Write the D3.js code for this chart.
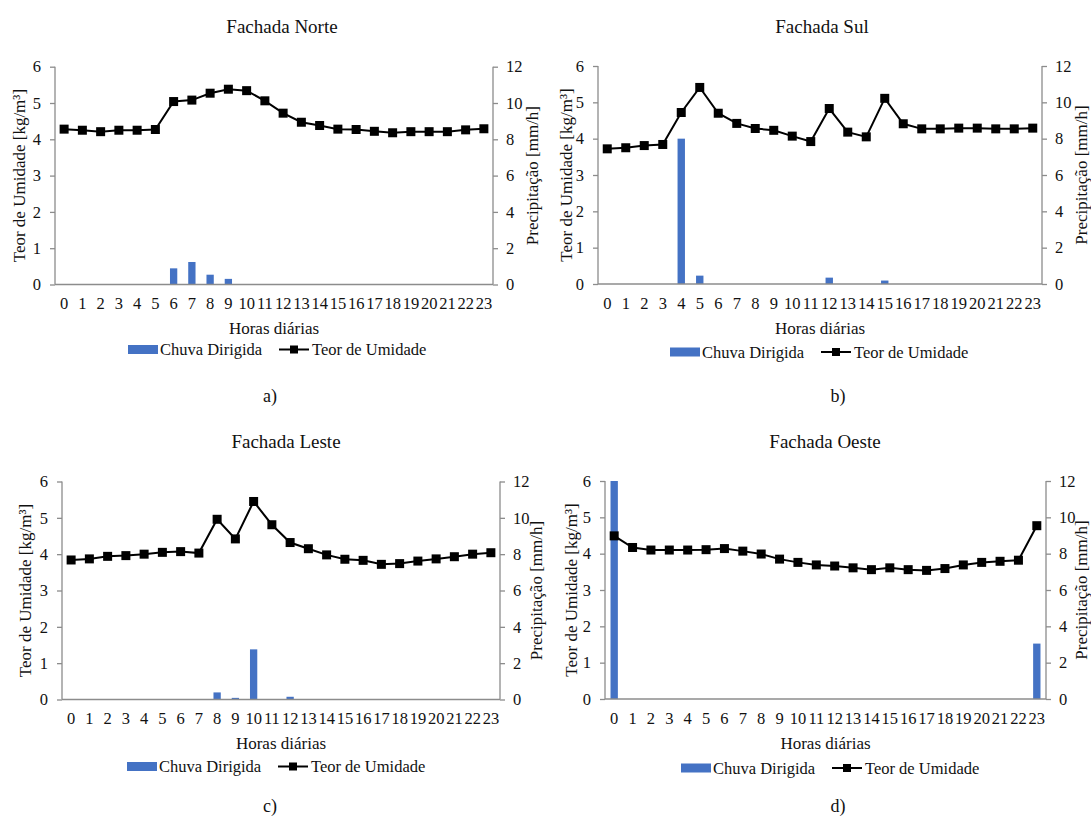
<!DOCTYPE html>
<html>
<head>
<meta charset="utf-8">
<script src="https://cdn.jsdelivr.net/npm/d3@7"></script>
<style>
  body { margin: 0; background: #fff; }
  text { font-family: "Liberation Serif", "Times New Roman", serif; fill: #111; }
</style>
</head>
<body>
<div id="chart"></div>
<script>
// hours of the day (x categories)
const hours = ['0','1','2','3','4','5','6','7','8','9','10','11','12','13','14','15','16','17','18','19','20','21','22','23']
const leftTicks = [0, 1, 2, 3, 4, 5, 6]
const rightTicks = [0, 2, 4, 6, 8, 10, 12]

// Teor de Umidade [kg/m³]
const norteTeor = [4.28, 4.25, 4.21, 4.25, 4.25, 4.27, 5.04, 5.08, 5.27, 5.38, 5.34, 5.06, 4.72, 4.47, 4.38, 4.28, 4.27, 4.22, 4.18, 4.21, 4.21, 4.21, 4.26, 4.29]
const sulTeor = [3.72, 3.75, 3.81, 3.84, 4.72, 5.41, 4.70, 4.42, 4.28, 4.23, 4.07, 3.92, 4.83, 4.18, 4.05, 5.11, 4.41, 4.27, 4.27, 4.29, 4.29, 4.27, 4.27, 4.29]
const lesteTeor = [3.84, 3.87, 3.94, 3.96, 4.00, 4.05, 4.07, 4.03, 4.96, 4.42, 5.45, 4.81, 4.32, 4.15, 3.98, 3.86, 3.83, 3.72, 3.74, 3.81, 3.87, 3.93, 4.00, 4.04]
const oesteTeor = [4.49, 4.17, 4.10, 4.10, 4.10, 4.11, 4.14, 4.07, 3.99, 3.85, 3.76, 3.69, 3.66, 3.61, 3.56, 3.61, 3.56, 3.54, 3.59, 3.69, 3.76, 3.79, 3.82, 4.77]

// Chuva Dirigida, precipitação [mm/h]
const norteChuva = [0, 0, 0, 0, 0, 0, 0.89, 1.24, 0.54, 0.31, 0, 0, 0, 0, 0, 0, 0, 0, 0, 0, 0, 0, 0, 0]
const sulChuva = [0, 0, 0, 0, 8.0, 0.46, 0, 0, 0, 0, 0, 0, 0.35, 0, 0, 0.19, 0, 0, 0, 0, 0, 0, 0, 0]
const lesteChuva = [0, 0, 0, 0, 0, 0, 0, 0, 0.39, 0.09, 2.76, 0, 0.15, 0, 0, 0, 0, 0, 0, 0, 0, 0, 0, 0]
const oesteChuva = [12, 0, 0, 0, 0, 0, 0, 0, 0, 0, 0, 0, 0, 0, 0, 0, 0, 0, 0, 0, 0, 0, 0, 3.05]

const blue = '#4472c4'
const axisGrey = '#8c8c8c'

const svg = d3.select('#chart').append('svg')
  .attr('width', 1091)
  .attr('height', 818)
  .style('background', '#fff')

const panels = [
  {title: 'Fachada Norte', caption: 'a)', teor: norteTeor, chuva: norteChuva,
   left: 55, right: 493, top: 66.7, bottom: 284.5, titleX: 282, ylabX: 19, y2labX: 532, legX: 128, legDy: 65, capX: 270, capY: 396},
  {title: 'Fachada Sul', caption: 'b)', teor: sulTeor, chuva: sulChuva,
   left: 598, right: 1042, top: 66, bottom: 284, titleX: 822, ylabX: 566, y2labX: 1081, legX: 670, legDy: 68, capX: 838, capY: 396},
  {title: 'Fachada Leste', caption: 'c)', teor: lesteTeor, chuva: lesteChuva,
   left: 62, right: 500, top: 481.5, bottom: 699.5, titleX: 286, ylabX: 25, y2labX: 536, legX: 127, legDy: 67, capX: 270, capY: 806},
  {title: 'Fachada Oeste', caption: 'd)', teor: oesteTeor, chuva: oesteChuva,
   left: 605, right: 1046, top: 481, bottom: 699, titleX: 825, ylabX: 571, y2labX: 1081, legX: 681, legDy: 69, capX: 838, capY: 806}
]

const drawPanel = (p) => {
  const g = svg.append('g')
  const x = d3.scaleBand().domain(hours).range([p.left, p.right])
  const y = d3.scaleLinear().domain([0, 6]).range([p.bottom, p.top])
  const y2 = d3.scaleLinear().domain([0, 12]).range([p.bottom, p.top])
  const cx = (p.left + p.right) / 2

  // title
  g.append('text')
    .attr('x', p.titleX).attr('y', p.top - 40)
    .attr('text-anchor', 'middle').attr('dominant-baseline', 'central')
    .style('font-size', '19px')
    .text(p.title)

  // bars (secondary axis)
  const barW = x.bandwidth() * 0.4
  g.append('g').selectAll('rect')
    .data(p.chuva)
    .join('rect')
    .attr('x', (d, i) => x(hours[i]) + (x.bandwidth() - barW) / 2)
    .attr('y', d => y2(d))
    .attr('width', barW)
    .attr('height', d => y2(0) - y2(d))
    .attr('fill', blue)

  // axes
  const axL = g.append('g')
    .attr('transform', `translate(${p.left},0)`)
    .call(d3.axisLeft(y).tickValues(leftTicks).tickSize(5).tickPadding(9).tickFormat(d3.format('d')))
  const axR = g.append('g')
    .attr('transform', `translate(${p.right},0)`)
    .call(d3.axisRight(y2).tickValues(rightTicks).tickSize(5).tickPadding(8).tickFormat(d3.format('d')))
  const axB = g.append('g')
    .attr('transform', `translate(0,${p.bottom})`)
    .call(d3.axisBottom(x).tickSize(0).tickPadding(13))
  ;[axL, axR, axB].forEach(a => {
    a.attr('font-family', null)
    a.select('.domain').attr('stroke', axisGrey).attr('stroke-width', 1.3)
    a.selectAll('.tick line').attr('stroke', axisGrey).attr('stroke-width', 1.3)
    a.selectAll('.tick text')
      .style('font-size', '16.5px').attr('fill', '#111')
  })
  axL.select('.domain').attr('d', `M0,${p.bottom}V${p.top}`)
  axR.select('.domain').attr('d', `M0,${p.bottom}V${p.top}`)
  axB.select('.domain').attr('d', `M${p.left},0H${p.right}`)

  // moisture line + square markers
  const line = d3.line()
    .x((d, i) => x(hours[i]) + x.bandwidth() / 2)
    .y(d => y(d))
  g.append('path')
    .attr('d', line(p.teor))
    .attr('fill', 'none')
    .attr('stroke', '#000')
    .attr('stroke-width', 2)
  const ms = 9
  g.append('g').selectAll('rect')
    .data(p.teor)
    .join('rect')
    .attr('x', (d, i) => x(hours[i]) + x.bandwidth() / 2 - ms / 2)
    .attr('y', d => y(d) - ms / 2)
    .attr('width', ms).attr('height', ms)
    .attr('fill', '#000')

  // axis titles
  const midY = (p.top + p.bottom) / 2
  g.append('text')
    .attr('transform', `translate(${p.ylabX},${midY}) rotate(-90)`)
    .attr('text-anchor', 'middle').attr('dominant-baseline', 'central')
    .style('font-size', '17px')
    .text('Teor de Umidade [kg/m³]')
  g.append('text')
    .attr('transform', `translate(${p.y2labX},${midY}) rotate(-90)`)
    .attr('text-anchor', 'middle').attr('dominant-baseline', 'central')
    .style('font-size', '17px')
    .text('Precipitação [mm/h]')
  g.append('text')
    .attr('x', cx).attr('y', p.bottom + 44)
    .attr('text-anchor', 'middle').attr('dominant-baseline', 'central')
    .style('font-size', '17px')
    .text('Horas diárias')

  // legend
  const ly = p.bottom + p.legDy
  g.append('rect')
    .attr('x', p.legX).attr('y', ly - 4.5)
    .attr('width', 30).attr('height', 9)
    .attr('fill', blue)
  g.append('text')
    .attr('x', p.legX + 32).attr('y', ly)
    .attr('dominant-baseline', 'central')
    .style('font-size', '16.5px')
    .text('Chuva Dirigida')
  const lx = p.legX + 151
  g.append('line')
    .attr('x1', lx).attr('x2', lx + 30)
    .attr('y1', ly).attr('y2', ly)
    .attr('stroke', '#000').attr('stroke-width', 2)
  g.append('rect')
    .attr('x', lx + 15 - 4).attr('y', ly - 4)
    .attr('width', 8).attr('height', 8)
    .attr('fill', '#000')
  g.append('text')
    .attr('x', lx + 33).attr('y', ly)
    .attr('dominant-baseline', 'central')
    .style('font-size', '16.5px')
    .text('Teor de Umidade')

  // caption
  g.append('text')
    .attr('x', p.capX).attr('y', p.capY)
    .attr('text-anchor', 'middle').attr('dominant-baseline', 'central')
    .style('font-size', '18px')
    .text(p.caption)
}

panels.forEach(drawPanel)
</script>
</body>
</html>
